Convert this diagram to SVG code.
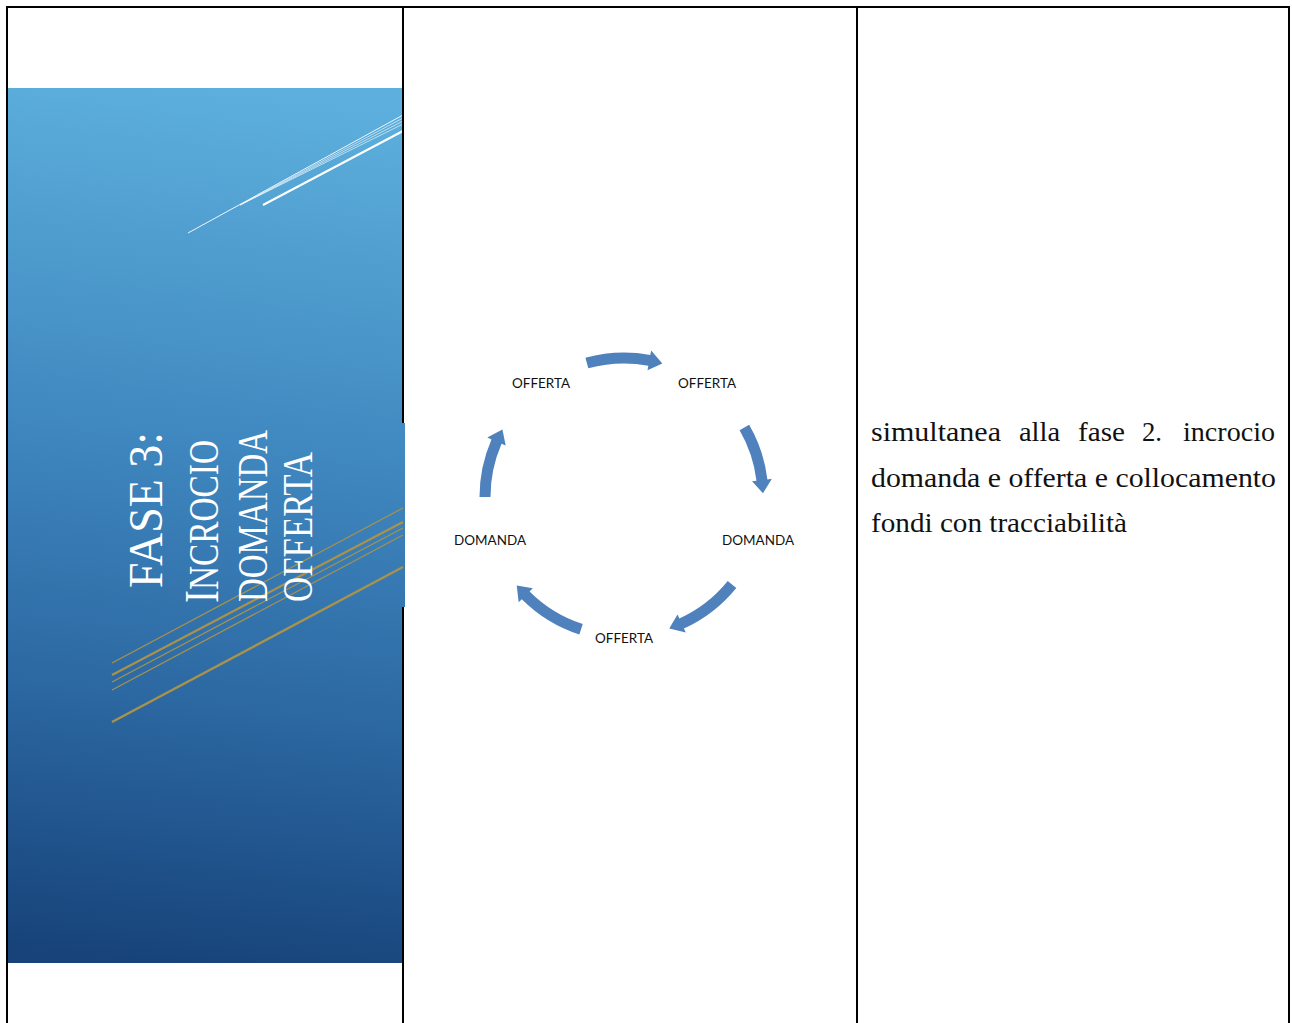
<svg xmlns="http://www.w3.org/2000/svg" width="1292" height="1023" viewBox="0 0 1292 1023">
<style>
.border{stroke:#000;stroke-width:2;fill:none}
.lbl{font-family:Lato,"Liberation Sans",sans-serif;font-size:14px;fill:#111;text-anchor:middle}
.title{font-family:"Liberation Serif",serif;fill:#fff}
.body{font-family:"Liberation Serif",serif;font-size:27px;fill:#111}
.gold{stroke:#A8924C;fill:none}
.wht{stroke:#fff;fill:none}
.arr{fill:#4F81BD}
</style>
<defs>
<linearGradient id="pg" gradientUnits="userSpaceOnUse" x1="260" y1="88" x2="150" y2="963">
<stop offset="0" stop-color="#5DB0DD"/>
<stop offset="0.4" stop-color="#4088C0"/>
<stop offset="0.7" stop-color="#2C68A2"/>
<stop offset="1" stop-color="#17437A"/>
</linearGradient>
</defs>
<rect width="1292" height="1023" fill="#fff"/>

<g id="panel">
<rect x="8" y="88" width="395" height="875" fill="url(#pg)"/>
<rect x="400" y="423" width="5" height="184" fill="url(#pg)"/>
<g class="wht">
<line x1="188" y1="233" x2="403" y2="115" stroke-width="1" stroke-opacity="0.9"/>
<line x1="240" y1="205" x2="403" y2="118" stroke-width="1" stroke-opacity="0.6"/>
<line x1="240" y1="205" x2="403" y2="121" stroke-width="1" stroke-opacity="0.6"/>
<line x1="240" y1="205" x2="403" y2="124" stroke-width="1" stroke-opacity="0.6"/>
<line x1="263" y1="205" x2="403" y2="131" stroke-width="2"/>
</g>
<g class="gold">
<line x1="112" y1="663" x2="403" y2="508" stroke-width="1.2"/>
<line x1="112" y1="675" x2="403" y2="522" stroke-width="2.2"/>
<line x1="112" y1="682" x2="403" y2="528" stroke-width="1.2"/>
<line x1="112" y1="690" x2="403" y2="535" stroke-width="1.2"/>
<line x1="112" y1="722" x2="403" y2="567" stroke-width="2.4"/>
</g>
<text class="title" transform="translate(162,588) rotate(-90)" font-size="49" textLength="156" lengthAdjust="spacingAndGlyphs">FASE 3:</text>
<text class="title" transform="translate(218,603) rotate(-90)" font-size="49" textLength="163" lengthAdjust="spacingAndGlyphs">I<tspan font-size="42">NCROCIO</tspan></text>
<text class="title" transform="translate(267,602) rotate(-90)" font-size="42" textLength="172" lengthAdjust="spacingAndGlyphs">DOMANDA</text>
<text class="title" transform="translate(312,602) rotate(-90)" font-size="42" textLength="150" lengthAdjust="spacingAndGlyphs">OFFERTA</text>
</g>

<g id="table">
<line class="border" x1="7" y1="7" x2="1290" y2="7"/>
<line class="border" x1="7" y1="6" x2="7" y2="1023"/>
<line class="border" x1="403" y1="6" x2="403" y2="423"/>
<line class="border" x1="403" y1="607" x2="403" y2="1023"/>
<line class="border" x1="857" y1="6" x2="857" y2="1023"/>
<line class="border" x1="1289" y1="6" x2="1289" y2="1023"/>
</g>

<g id="connectors" transform="translate(624,497)">
<path class="arr" d="M -38.61 -139.24 A 144.5 144.5 0 0 1 26.33 -142.09 L 27.15 -146.51 L 38.31 -133.62 L 23.50 -126.85 L 24.32 -131.27 A 133.5 133.5 0 0 0 -35.67 -128.64 Z"/>
<path class="arr" d="M 125.14 -72.25 A 144.5 144.5 0 0 1 143.42 -17.61 L 147.89 -18.16 L 138.95 -3.64 L 128.03 -15.72 L 132.50 -16.27 A 133.5 133.5 0 0 0 115.61 -66.75 Z"/>
<path class="arr" d="M 112.29 90.93 A 144.5 144.5 0 0 1 59.92 131.50 L 61.79 135.59 L 45.26 131.42 L 53.50 117.39 L 55.36 121.49 A 133.5 133.5 0 0 0 103.74 84.01 Z"/>
<path class="arr" d="M -44.65 137.43 A 144.5 144.5 0 0 1 -102.18 102.18 L -105.36 105.36 L -107.25 88.42 L -91.22 91.22 L -94.40 94.40 A 133.5 133.5 0 0 0 -41.25 126.97 Z"/>
<path class="arr" d="M -144.5 0 A 144.5 144.5 0 0 1 -132.52 -57.61 L -136.65 -59.41 L -121.57 -67.39 L -118.31 -51.43 L -122.43 -53.23 A 133.5 133.5 0 0 0 -133.5 0 Z"/>
</g>

<g id="node-offerta-1"><text class="lbl" x="541" y="388" textLength="58" lengthAdjust="spacingAndGlyphs">OFFERTA</text></g>
<g id="node-offerta-2"><text class="lbl" x="707" y="388" textLength="58" lengthAdjust="spacingAndGlyphs">OFFERTA</text></g>
<g id="node-domanda-1"><text class="lbl" x="758" y="545" textLength="72" lengthAdjust="spacingAndGlyphs">DOMANDA</text></g>
<g id="node-offerta-3"><text class="lbl" x="624" y="643" textLength="58" lengthAdjust="spacingAndGlyphs">OFFERTA</text></g>
<g id="node-domanda-2"><text class="lbl" x="490" y="545" textLength="72" lengthAdjust="spacingAndGlyphs">DOMANDA</text></g>

<g id="description">
<text class="body" y="441"><tspan x="871" textLength="130" lengthAdjust="spacingAndGlyphs">simultanea</tspan> <tspan x="1019" textLength="41" lengthAdjust="spacingAndGlyphs">alla</tspan> <tspan x="1078" textLength="47" lengthAdjust="spacingAndGlyphs">fase</tspan> <tspan x="1142" textLength="20" lengthAdjust="spacingAndGlyphs">2.</tspan> <tspan x="1183" textLength="92" lengthAdjust="spacingAndGlyphs">incrocio</tspan></text>
<text class="body" x="871" y="487" textLength="405" lengthAdjust="spacingAndGlyphs">domanda e offerta e collocamento</text>
<text class="body" x="871" y="532" textLength="256" lengthAdjust="spacingAndGlyphs">fondi con tracciabilità</text>
</g>
</svg>
